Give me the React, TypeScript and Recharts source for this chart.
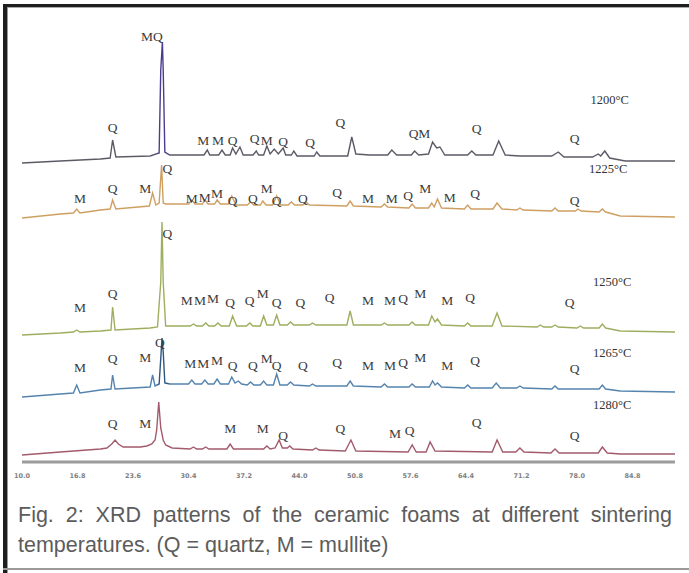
import React from "react";
import { ComposedChart, Line, Scatter, XAxis, YAxis } from "recharts";

// 2θ (degrees) and stacked intensity (arbitrary units, offset per temperature)
const ticks2Theta = [10, 16.8, 23.6, 30.4, 37.2, 44, 50.8, 57.6, 64.4, 71.2, 78, 84.8];

const temperatures = ["1200°C", "1225°C", "1250°C", "1265°C", "1280°C"];
const temperatureLabelPos: [number, number][] = [
  [82.0, 362],
  [81.8, 293],
  [82.3, 180],
  [82.3, 109],
  [82.3, 57],
];

const pattern1200: [number, number][] = [
  [10.0, 299], [14.7, 301], [19.6, 303], [20.8, 304], [21.1, 322], [21.5, 305],
  [25.7, 306], [26.8, 309], [27.0, 392], [27.2, 420], [27.3, 392], [27.5, 310],
  [28.1, 307], [32.3, 307], [32.7, 312], [33.0, 307], [34.1, 307], [34.5, 312],
  [34.9, 307], [35.5, 307], [35.8, 314], [36.2, 308], [36.7, 315], [37.1, 307],
  [38.3, 307], [38.7, 311], [39.0, 307], [39.6, 307], [40.0, 316], [40.4, 308],
  [40.9, 313], [41.4, 308], [42.0, 314], [42.3, 307], [43.0, 307], [43.3, 311],
  [43.7, 306], [45.8, 306], [46.1, 310], [46.5, 306], [49.9, 306], [50.4, 325],
  [50.9, 308], [52.6, 307], [54.8, 307], [55.3, 312], [55.9, 307], [57.7, 307],
  [58.1, 311], [58.6, 307], [59.8, 308], [60.3, 320], [60.8, 314], [61.2, 315],
  [61.8, 307], [64.6, 307], [65.1, 311], [65.6, 307], [67.7, 307], [68.4, 321],
  [69.2, 307], [71.0, 306], [74.9, 306], [75.7, 310], [76.4, 305], [79.9, 305],
  [80.6, 308], [80.9, 306], [81.4, 311], [82.0, 304], [83.9, 301], [90.0, 301],
];

const pattern1225: [number, number][] = [
  [10.0, 244], [14.7, 248], [16.3, 249], [16.7, 253], [17.1, 249], [19.6, 252],
  [20.8, 253], [21.1, 262], [21.5, 253], [25.6, 256], [26.0, 269], [26.4, 257],
  [26.8, 259], [27.1, 297], [27.3, 259], [27.6, 258], [28.1, 258], [30.4, 258],
  [30.8, 262], [31.2, 258], [32.1, 258], [32.4, 262], [32.8, 258], [33.6, 258],
  [33.9, 262], [34.3, 258], [35.3, 258], [35.7, 266], [36.2, 257], [37.6, 257],
  [38.0, 260], [38.4, 257], [39.2, 257], [39.5, 261], [39.9, 257], [40.7, 257],
  [41.2, 266], [41.7, 257], [42.6, 257], [43.0, 260], [43.4, 257], [44.4, 257],
  [44.8, 260], [45.2, 257], [49.8, 256], [50.2, 261], [50.6, 256], [54.0, 255],
  [54.4, 258], [54.8, 255], [57.4, 254], [57.8, 258], [58.2, 254], [59.8, 254],
  [60.2, 259], [60.5, 255], [60.9, 263], [61.4, 254], [64.2, 253], [64.6, 257],
  [65.0, 253], [67.7, 253], [68.2, 259], [68.8, 253], [70.6, 252], [71.0, 254],
  [71.4, 252], [74.9, 251], [75.3, 254], [75.7, 251], [77.8, 251], [78.1, 253],
  [78.5, 251], [80.7, 250], [81.1, 253], [81.5, 250], [83.3, 246], [90.0, 245],
];

const pattern1250: [number, number][] = [
  [10.0, 127], [14.7, 129], [16.3, 130], [16.7, 132], [17.1, 130], [19.6, 131],
  [20.9, 132], [21.1, 155], [21.4, 132], [25.7, 134], [26.6, 135], [27.0, 180],
  [27.15, 240], [27.3, 180], [27.6, 136], [28.1, 136], [30.6, 136], [31.0, 138],
  [31.4, 136], [32.1, 136], [32.5, 139], [32.9, 136], [33.6, 136], [34.0, 139],
  [34.4, 136], [35.4, 136], [35.8, 146], [36.3, 136], [37.5, 136], [37.9, 139],
  [38.3, 136], [39.2, 136], [39.6, 146], [40.0, 137], [40.8, 137], [41.2, 147],
  [41.6, 137], [42.5, 137], [42.9, 140], [43.3, 137], [45.2, 137], [45.6, 139],
  [46.0, 137], [49.8, 137], [50.2, 151], [50.6, 137], [54.0, 137], [54.4, 139],
  [54.8, 137], [57.4, 137], [57.8, 140], [58.2, 137], [59.8, 137], [60.2, 146],
  [60.6, 140], [60.9, 143], [61.4, 137], [64.2, 136], [64.6, 139], [65.0, 136],
  [67.6, 136], [68.2, 149], [68.8, 136], [73.1, 135], [73.5, 137], [73.9, 135],
  [74.9, 135], [75.3, 137], [75.7, 135], [78.0, 134], [78.4, 136], [78.8, 134],
  [80.7, 134], [81.1, 138], [81.5, 134], [83.3, 131], [90.0, 130],
];

const pattern1265: [number, number][] = [
  [10.0, 65], [14.7, 68], [16.3, 69], [16.7, 77], [17.1, 69], [19.6, 72],
  [20.9, 73], [21.1, 87], [21.4, 73], [25.7, 75], [26.0, 87], [26.3, 76],
  [26.8, 78], [27.05, 110], [27.15, 124], [27.3, 110], [27.5, 79], [28.1, 78],
  [30.4, 78], [30.8, 82], [31.2, 78], [32.0, 78], [32.4, 82], [32.8, 78],
  [33.5, 78], [33.9, 83], [34.3, 78], [35.3, 78], [35.7, 85], [36.1, 79],
  [36.5, 81], [36.9, 78], [37.6, 77], [38.0, 80], [38.4, 77], [39.2, 77],
  [39.6, 81], [40.0, 77], [40.8, 77], [41.2, 88], [41.6, 77], [42.5, 77],
  [42.9, 80], [43.3, 77], [45.2, 76], [45.6, 78], [46.0, 76], [49.8, 76],
  [50.2, 81], [50.6, 76], [54.0, 75], [54.4, 78], [54.8, 75], [57.4, 75],
  [57.8, 78], [58.2, 75], [59.9, 75], [60.3, 81], [60.6, 77], [60.9, 79],
  [61.4, 75], [64.2, 74], [64.6, 77], [65.0, 74], [67.6, 74], [68.1, 79],
  [68.6, 74], [70.6, 74], [71.0, 76], [71.4, 74], [74.9, 73], [75.3, 76],
  [75.7, 73], [80.7, 73], [81.1, 77], [81.5, 73], [83.3, 71], [90.0, 70],
];

const pattern1280: [number, number][] = [
  [10.0, 7], [14.7, 10], [19.6, 13], [20.4, 14], [21.0, 18], [21.4, 22],
  [21.8, 18], [22.4, 15], [24.5, 15], [25.3, 16], [25.9, 18], [26.3, 22],
  [26.5, 32], [26.75, 60], [27.0, 34], [27.3, 22], [27.6, 17], [28.4, 14],
  [30.6, 13], [31.0, 15], [31.4, 13], [32.1, 13], [32.5, 15], [32.9, 13],
  [35.1, 13], [35.5, 18], [35.9, 13], [39.6, 13], [40.0, 16], [40.4, 13],
  [41.0, 14], [41.5, 22], [41.9, 14], [42.5, 14], [42.8, 16], [43.2, 13],
  [45.6, 12], [46.0, 14], [46.4, 12], [49.6, 11], [50.3, 22], [50.9, 11],
  [57.3, 10], [57.8, 17], [58.3, 10], [59.5, 10], [60.0, 20], [60.6, 11],
  [67.6, 10], [68.2, 22], [68.9, 10], [70.5, 10], [71.0, 14], [71.5, 10],
  [74.8, 9], [75.3, 13], [75.8, 9], [80.6, 9], [81.1, 15], [81.7, 9],
  [83.3, 8], [90.0, 8],
];

// peak labels: [2θ, height, phase]
const peaks1200: [number, number, string][] = [
  [25.9, 426, "MQ"], [21.1, 335, "Q"], [32.2, 322, "M"], [34.0, 322, "M"],
  [35.8, 322, "Q"], [38.5, 324, "Q"], [40.0, 322, "M"], [42.0, 321, "Q"],
  [45.3, 320, "Q"], [49.0, 340, "Q"], [58.7, 329, "QM"], [65.7, 334, "Q"],
  [77.7, 324, "Q"],
];
const peaks1225: [number, number, string][] = [
  [17.1, 264, "M"], [21.1, 274, "Q"], [25.1, 274, "M"], [27.8, 294, "Q"],
  [30.8, 264, "M"], [32.4, 265, "M"], [33.9, 269, "M"], [35.8, 262, "Q"],
  [38.3, 264, "Q"], [40.0, 274, "M"], [41.2, 262, "Q"], [44.4, 264, "Q"],
  [48.6, 270, "Q"], [52.4, 264, "M"], [55.3, 264, "M"], [57.3, 267, "Q"],
  [59.4, 274, "M"], [62.4, 265, "M"], [65.5, 269, "Q"], [77.7, 262, "Q"],
];
const peaks1250: [number, number, string][] = [
  [17.1, 155, "M"], [21.1, 169, "Q"], [27.8, 229, "Q"], [30.2, 162, "M"],
  [31.8, 162, "M"], [33.4, 164, "M"], [35.5, 160, "Q"], [37.9, 162, "Q"],
  [39.5, 169, "M"], [41.2, 160, "Q"], [44.1, 160, "Q"], [47.7, 165, "Q"],
  [52.4, 162, "M"], [55.1, 162, "M"], [56.7, 164, "Q"], [58.8, 169, "M"],
  [62.1, 162, "M"], [64.9, 165, "Q"], [77.1, 160, "Q"],
];
const peaks1265: [number, number, string][] = [
  [17.1, 95, "M"], [21.1, 104, "Q"], [25.1, 105, "M"], [26.9, 120, "Q"],
  [30.6, 99, "M"], [32.2, 99, "M"], [33.9, 102, "M"], [35.8, 97, "Q"],
  [38.3, 97, "Q"], [40.0, 104, "M"], [41.2, 97, "Q"], [44.4, 97, "Q"],
  [48.6, 100, "Q"], [52.4, 97, "M"], [55.1, 97, "M"], [56.7, 100, "Q"],
  [58.8, 105, "M"], [62.1, 97, "M"], [65.5, 102, "Q"], [77.7, 94, "Q"],
];
const peaks1280: [number, number, string][] = [
  [21.1, 39, "Q"], [25.1, 39, "M"], [35.5, 34, "M"], [39.5, 34, "M"],
  [42.0, 27, "Q"], [49.0, 34, "Q"], [55.7, 29, "M"], [57.5, 32, "Q"],
  [65.7, 40, "Q"], [77.7, 27, "Q"],
];

const series = [
  { pattern: pattern1200, peaks: peaks1200, color: "url(#grad1200)" },
  { pattern: pattern1225, peaks: peaks1225, color: "#cf9f62" },
  { pattern: pattern1250, peaks: peaks1250, color: "#9dae5e" },
  { pattern: pattern1265, peaks: peaks1265, color: "url(#grad1265)" },
  { pattern: pattern1280, peaks: peaks1280, color: "#a25a6c" },
];

const toRows = (pts: [number, number][]) => pts.map(([x, y]) => ({ x, y }));
const toLabels = (pts: [number, number, string][]) =>
  pts.map(([x, y, text]) => ({ x, y, text }));

const tempLabels = temperatures.map((t, i) => ({
  x: temperatureLabelPos[i][0],
  y: temperatureLabelPos[i][1],
  text: t,
}));

const TextMark = (props: any) => {
  const { cx, cy, payload } = props;
  if (cx == null || cy == null) return null;
  return (
    <text
      x={cx}
      y={cy}
      textAnchor="middle"
      dominantBaseline="central"
      fontFamily="'Liberation Serif', 'DejaVu Serif', serif"
      fontSize={13.5}
      fill="#3b3b3b"
    >
      {payload.text}
    </text>
  );
};

const TempMark = (props: any) => {
  const { cx, cy, payload } = props;
  if (cx == null || cy == null) return null;
  return (
    <text
      x={cx}
      y={cy}
      textAnchor="middle"
      dominantBaseline="central"
      fontFamily="'Liberation Serif', 'DejaVu Serif', serif"
      fontSize={12.5}
      fill="#333"
    >
      {payload.text}
    </text>
  );
};

const TickLabel = (props: any) => {
  const { x, y, payload } = props;
  return (
    <text
      x={x}
      y={y + 8}
      textAnchor="middle"
      fontFamily="'DejaVu Sans', sans-serif"
      fontSize={6.5}
      fontWeight="bold"
      fill="#7f7f7f"
    >
      {Number(payload.value).toFixed(1)}
    </text>
  );
};

export default function App() {
  return (
    <div
      style={{
        position: "absolute",
        left: 0,
        top: 0,
        width: 689,
        height: 573,
        background: "#fff",
        overflow: "hidden",
      }}
    >
      {/* frame */}
      <div style={{ position: "absolute", left: 3, top: 4, width: 686, height: 3, background: "#1e1e1e" }} />
      <div style={{ position: "absolute", left: 3, top: 7, width: 686, height: 1, background: "#aaa" }} />
      <div style={{ position: "absolute", left: 3, top: 4, width: 4, height: 569, background: "#1e1e1e" }} />
      <div style={{ position: "absolute", left: 7, top: 7, width: 1, height: 566, background: "#999" }} />
      <div style={{ position: "absolute", left: 3, top: 568, width: 686, height: 2, background: "#9a9a9a" }} />

      <div style={{ position: "absolute", left: 0, top: 0 }}>
        <ComposedChart
          width={689}
          height={490}
          margin={{ top: 20, right: 14, bottom: 0, left: 22 }}
        >
          <defs>
            <linearGradient id="grad1200" x1="0" y1="0" x2="1" y2="0">
              <stop offset="0" stopColor="#5b5a66" />
              <stop offset="0.205" stopColor="#5b5a66" />
              <stop offset="0.21" stopColor="#4a3d8e" />
              <stop offset="0.222" stopColor="#4a3d8e" />
              <stop offset="0.228" stopColor="#5b5a66" />
              <stop offset="1" stopColor="#5b5a66" />
            </linearGradient>
            <linearGradient id="grad1265" x1="0" y1="0" x2="1" y2="0">
              <stop offset="0" stopColor="#5483ae" />
              <stop offset="0.205" stopColor="#5483ae" />
              <stop offset="0.21" stopColor="#2d5582" />
              <stop offset="0.222" stopColor="#2d5582" />
              <stop offset="0.228" stopColor="#5483ae" />
              <stop offset="1" stopColor="#5483ae" />
            </linearGradient>
          </defs>
          <XAxis
            dataKey="x"
            type="number"
            domain={[10, 90]}
            ticks={ticks2Theta}
            interval={0}
            height={28}
            axisLine={{ stroke: "#9b9b9b", strokeWidth: 3 }}
            tickLine={false}
            tick={<TickLabel />}
            allowDataOverflow
          />
          <YAxis
            dataKey="y"
            type="number"
            domain={[0, 442]}
            width={0}
            tick={false}
            tickLine={false}
            axisLine={{ stroke: "#d0d0d0" }}
            allowDataOverflow
          />
          {series.map((s, i) => (
            <Line
              key={`line-${i}`}
              data={toRows(s.pattern)}
              dataKey="y"
              type="linear"
              stroke={s.color}
              strokeWidth={1.4}
              dot={false}
              activeDot={false}
              isAnimationActive={false}
            />
          ))}
          {series.map((s, i) => (
            <Scatter
              key={`peaks-${i}`}
              data={toLabels(s.peaks)}
              dataKey="y"
              shape={<TextMark />}
              isAnimationActive={false}
            />
          ))}
          <Scatter
            data={tempLabels}
            dataKey="y"
            shape={<TempMark />}
            isAnimationActive={false}
          />
        </ComposedChart>
      </div>

      <div
        style={{
          position: "absolute",
          left: 18,
          top: 500,
          width: 654,
          fontFamily: "'Liberation Sans', Arial, sans-serif",
          fontSize: 21.5,
          lineHeight: "30px",
          color: "#5c5c5c",
        }}
      >
        <div style={{ textAlign: "justify", textAlignLast: "justify" }}>
          Fig. 2: XRD patterns of the ceramic foams at different sintering
        </div>
        <div>temperatures. (Q = quartz, M = mullite)</div>
      </div>
    </div>
  );
}
